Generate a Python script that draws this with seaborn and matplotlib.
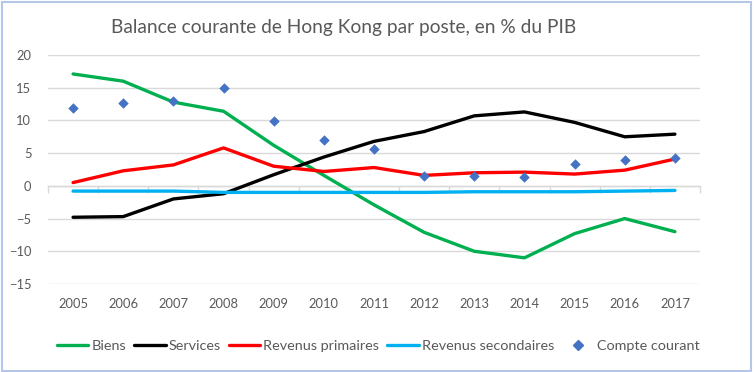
import matplotlib
matplotlib.use("Agg")
import matplotlib.pyplot as plt
import matplotlib.patches as mpatches
from matplotlib.lines import Line2D
import seaborn as sns
import pandas as pd
import numpy as np

years = [2005, 2006, 2007, 2008, 2009, 2010, 2011, 2012, 2013, 2014, 2015, 2016, 2017]
biens = [17.1, 16.0, 12.8, 11.4, 6.2, 1.6, -2.9, -7.1, -10.0, -11.0, -7.3, -5.0, -7.0]
services = [-4.8, -4.7, -2.0, -1.2, 1.7, 4.4, 6.8, 8.3, 10.7, 11.3, 9.7, 7.5, 7.9]
rev_prim = [0.5, 2.3, 3.2, 5.8, 3.0, 2.2, 2.8, 1.6, 2.0, 2.1, 1.8, 2.4, 4.1]
rev_sec = [-0.8, -0.8, -0.8, -1.0, -1.0, -1.0, -1.0, -1.0, -0.9, -0.9, -0.9, -0.8, -0.7]
compte = [11.9, 12.6, 13.0, 14.9, 9.9, 7.0, 5.6, 1.5, 1.5, 1.4, 3.3, 3.9, 4.3]

series_names = ["Biens", "Services", "Revenus primaires", "Revenus secondaires"]
series_colors = ["#00B050", "#000000", "#FF0000", "#00B0F0"]
C_DIAMOND = "#4472C4"
C_GRID = "#D9D9D9"
C_TEXT = "#595959"

sns.set_theme(style="white")
plt.rcParams["font.family"] = ["Lato", "DejaVu Sans"]

df = pd.DataFrame({
    "year": years * 4,
    "value": biens + services + rev_prim + rev_sec,
    "serie": sum([[n] * len(years) for n in series_names], []),
})
df_cc = pd.DataFrame({"year": years, "value": compte})

fig = plt.figure(figsize=(7.54, 3.72), dpi=100)
ax = fig.add_axes([48 / 754, 1 - 284 / 372, 652 / 754, 229 / 372])

sns.lineplot(data=df, x="year", y="value", hue="serie", hue_order=series_names,
             palette=series_colors, lw=2.4, ax=ax, legend=False, sort=False)
sns.scatterplot(data=df_cc, x="year", y="value", marker="D", s=24,
                color=C_DIAMOND, edgecolor=C_DIAMOND, ax=ax, legend=False, zorder=5)

ax.set_xlim(years[0] - 0.5, years[-1] + 0.5)
ax.set_ylim(-15, 20)
ax.set_yticks(range(-15, 21, 5))
ax.set_xticks(years)
ax.set_xticklabels([str(y) for y in years])
ax.tick_params(axis="both", length=0, labelsize=9.3, colors=C_TEXT)
ax.tick_params(axis="y", pad=12)
ax.tick_params(axis="x", pad=10)
ax.set_xlabel("")
ax.set_ylabel("")
for s in ax.spines.values():
    s.set_visible(False)
ax.yaxis.grid(True, color=C_GRID, lw=1)
ax.set_axisbelow(True)

# category axis line at zero with tick marks between categories
sec = ax.secondary_xaxis(15 / 35)
sec.set_xticks([y - 0.5 for y in years] + [years[-1] + 0.5])
sec.set_xticklabels([])
sec.tick_params(length=5, color=C_GRID, width=1, direction="out")
sec.spines["bottom"].set_color(C_GRID)
sec.spines["bottom"].set_linewidth(1)

fig.text(344 / 754, 1 - 28 / 372, "Balance courante de Hong Kong par poste, en % du PIB",
         ha="center", va="center", fontsize=13.8, color=C_TEXT)

handles = [Line2D([], [], color=c, lw=2.4) for c in series_colors]
handles.append(Line2D([], [], color=C_DIAMOND, marker="D", ls="", markersize=5))
fig.legend(handles, series_names + ["Compte courant"], loc="center",
           bbox_to_anchor=(378 / 754, 1 - 346 / 372), ncol=5, frameon=False,
           fontsize=10.4, handlelength=2.2, handletextpad=0.2, columnspacing=0.55,
           labelcolor=C_TEXT)

fig.patches.append(mpatches.Rectangle((0.002, 0.004), 0.994, 0.99, transform=fig.transFigure,
                                      fill=False, edgecolor="#B4C7E7", lw=1.5))

fig.savefig("out.png", dpi=100)
